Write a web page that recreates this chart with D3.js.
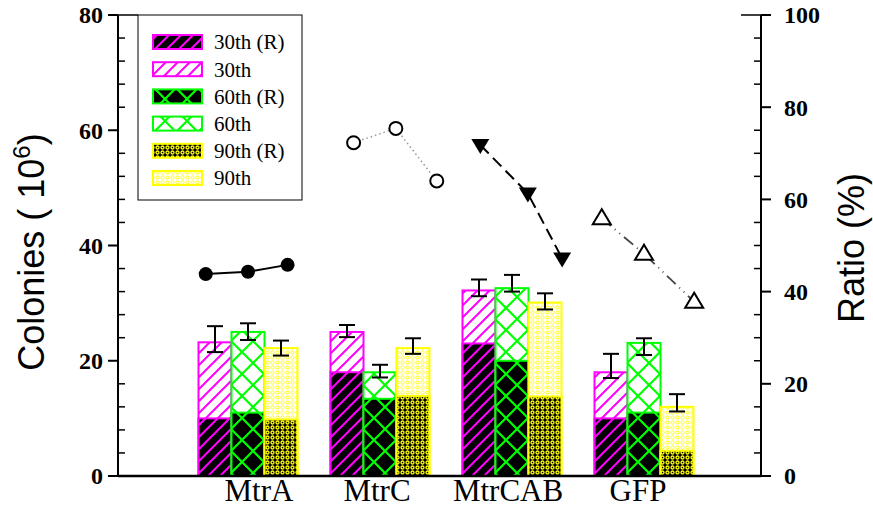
<!DOCTYPE html>
<html><head><meta charset="utf-8">
<script src="https://cdn.jsdelivr.net/npm/d3@7"></script>
<style>body{margin:0;background:#fff}svg{display:block}</style>
</head><body><svg id="c" width="873" height="512"></svg>
<script>
// ---- data ----
const categories = ["MtrA", "MtrC", "MtrCAB", "GFP"];
const total30 = [23.2, 25.0, 32.2, 18.0];
const total60 = [25.0, 18.0, 32.6, 23.1];
const total90 = [22.2, 22.2, 30.1, 12.0];
const r30 = [10.0, 18.0, 23.0, 10.0];
const r60 = [11.0, 13.4, 20.0, 11.0];
const r90 = [9.8, 13.9, 13.8, 4.4];
const err30Up = [2.8, 1.2, 1.9, 3.2], err30Down = [1.7, 0.9, 1.0, 1.0];
const err60Up = [1.5, 1.3, 2.3, 0.8], err60Down = [1.4, 0.9, 0.6, 2.1];
const err90Up = [1.3, 1.7, 1.6, 2.2], err90Down = [1.3, 1.0, 1.2, 0.8];
const legendLabels = ["30th (R)", "30th", "60th (R)", "60th", "90th (R)", "90th"];
// ratio lines (x in category units, 1 = first group centre)
const ratioMtrAX = [0.68, 1.0, 1.30], ratioMtrA = [43.8, 44.3, 45.8];
const ratioMtrCX = [1.80, 2.12, 2.43], ratioMtrC = [72.3, 75.4, 64.0];
const ratioMtrCABX = [2.76, 3.12, 3.38], ratioMtrCAB = [71.8, 61.3, 47.2];
const ratioGFPX = [3.68, 4.0, 4.38], ratioGFP = [55.9, 48.2, 37.8];
const leftTicks = [0, 20, 40, 60, 80];
const rightTicks = [0, 20, 40, 60, 80, 100];

// ---- layout ----
const svg = d3.select("#c");
const X0 = 118, X1 = 761, Y0 = 476, Y1 = 15;
const yL = d3.scaleLinear().domain([0, 80]).range([Y0, Y1]);
const yR = d3.scaleLinear().domain([0, 100]).range([Y0, Y1]);
const x = d3.scaleLinear().domain([0.5, 4.5]).range([182, 710]);
const bw = x(1.25) - x(1); // bar width (0.25 category units)
const labelNudge = [11, -3, -4, -6];

// patterns
const defs = svg.append("defs");
function hatch(id, bg) {
  const p = defs.append("pattern").attr("id", id).attr("patternUnits", "userSpaceOnUse")
    .attr("width", 12).attr("height", 12);
  p.append("rect").attr("width", 12).attr("height", 12).attr("fill", bg);
  p.append("path").attr("d", "M0,12L12,0M-3,3L3,-3M9,15L15,9")
    .attr("stroke", "#ff00ff").attr("stroke-width", 2);
}
function cross(id, bg) {
  const p = defs.append("pattern").attr("id", id).attr("patternUnits", "userSpaceOnUse")
    .attr("width", 22).attr("height", 22);
  p.append("rect").attr("width", 22).attr("height", 22).attr("fill", bg);
  p.append("path").attr("d", "M0,0L22,22M22,0L0,22")
    .attr("stroke", "#00ff00").attr("stroke-width", 2.2);
}
function dots(id, bg, r, sw) {
  const p = defs.append("pattern").attr("id", id).attr("patternUnits", "userSpaceOnUse")
    .attr("width", 5).attr("height", 5);
  p.append("rect").attr("width", 5).attr("height", 5).attr("fill", bg);
  p.append("circle").attr("cx", 2.5).attr("cy", 2.5).attr("r", r)
    .attr("fill", "none").attr("stroke", "#ffff00").attr("stroke-width", sw);
}
hatch("p30r", "#000"); hatch("p30", "#fff");
cross("p60r", "#000"); cross("p60", "#fff");
dots("p90r", "#000", 1.5, 1.3); dots("p90", "#fff", 1.6, 0.9);

const series = [
  {tot: total30, r: r30, up: err30Up, dn: err30Down, off: -1, col: "#ff00ff", pr: "url(#p30r)", p: "url(#p30)"},
  {tot: total60, r: r60, up: err60Up, dn: err60Down, off: 0, col: "#00ff00", pr: "url(#p60r)", p: "url(#p60)"},
  {tot: total90, r: r90, up: err90Up, dn: err90Down, off: 1, col: "#ffff00", pr: "url(#p90r)", p: "url(#p90)"}
];

// bars
series.forEach(s => {
  const g = svg.append("g");
  categories.forEach((c, i) => {
    const cx = x(i + 1) + s.off * bw;
    g.append("rect").attr("x", cx - bw / 2).attr("y", yL(s.tot[i]))
      .attr("width", bw).attr("height", yL(0) - yL(s.tot[i]))
      .attr("fill", s.p).attr("stroke", s.col).attr("stroke-width", 2);
    g.append("rect").attr("x", cx - bw / 2).attr("y", yL(s.r[i]))
      .attr("width", bw).attr("height", yL(0) - yL(s.r[i]))
      .attr("fill", s.pr).attr("stroke", s.col).attr("stroke-width", 2);
    const hi = yL(s.tot[i] + s.up[i]), lo = yL(s.tot[i] - s.dn[i]);
    g.append("line").attr("x1", cx).attr("x2", cx).attr("y1", hi).attr("y2", lo)
      .attr("stroke", "#000").attr("stroke-width", 2);
    [hi, lo].forEach(yy => g.append("line").attr("x1", cx - 8).attr("x2", cx + 8)
      .attr("y1", yy).attr("y2", yy).attr("stroke", "#000").attr("stroke-width", 2));
  });
});

// ratio lines
const lineGen = d3.line().x(d => x(d[0])).y(d => yR(d[1]));
function ratioLine(xs, ys, stroke, dash, sw, marker) {
  const pts = xs.map((v, i) => [v, ys[i]]);
  svg.append("path").attr("d", lineGen(pts)).attr("fill", "none")
    .attr("stroke", stroke).attr("stroke-width", sw).attr("stroke-dasharray", dash);
  const g = svg.append("g");
  pts.forEach(p => {
    const px = x(p[0]), py = yR(p[1]);
    if (marker === "fc") g.append("circle").attr("cx", px).attr("cy", py).attr("r", 7).attr("fill", "#000");
    if (marker === "oc") g.append("circle").attr("cx", px).attr("cy", py).attr("r", 6.5).attr("fill", "#fff").attr("stroke", "#000").attr("stroke-width", 2);
    if (marker === "td") g.append("path").attr("d", `M${px-9},${py-6}L${px+9},${py-6}L${px},${py+9}Z`).attr("fill", "#000");
    if (marker === "tu") g.append("path").attr("d", `M${px-9},${py+6}L${px+9},${py+6}L${px},${py-9}Z`).attr("fill", "#fff").attr("stroke", "#000").attr("stroke-width", 2);
  });
}
ratioLine(ratioMtrAX, ratioMtrA, "#000", null, 2, "fc");
ratioLine(ratioMtrCX, ratioMtrC, "#999", "1.5,3", 1.5, "oc");
ratioLine(ratioMtrCABX, ratioMtrCAB, "#000", "12,6", 2, "td");
ratioLine(ratioGFPX, ratioGFP, "#444", "12,5,1,5,1,5", 1.8, "tu");

// axes
const ax = svg.append("g").attr("stroke", "#000");
ax.append("line").attr("x1", X0).attr("x2", X1).attr("y1", Y0).attr("y2", Y0).attr("stroke-width", 2.5);
ax.append("line").attr("x1", X0).attr("x2", X0).attr("y1", Y0).attr("y2", Y1).attr("stroke-width", 2);
ax.append("line").attr("x1", X1).attr("x2", X1).attr("y1", Y0).attr("y2", Y1).attr("stroke-width", 2);
d3.range(0, 81, 4).forEach(v => {
  if (v % 20 === 0) ax.append("line").attr("x1", X0 - 10).attr("x2", X0).attr("y1", yL(v)).attr("y2", yL(v)).attr("stroke-width", 2);
  else ax.append("line").attr("x1", X0).attr("x2", X0 + 7).attr("y1", yL(v)).attr("y2", yL(v)).attr("stroke-width", 1.5);
});
d3.range(0, 101, 5).forEach(v => {
  if (v % 20 === 0) ax.append("line").attr("x1", X1).attr("x2", X1 + 10).attr("y1", yR(v)).attr("y2", yR(v)).attr("stroke-width", 2);
  else ax.append("line").attr("x1", X1 - 7).attr("x2", X1).attr("y1", yR(v)).attr("y2", yR(v)).attr("stroke-width", 1.5);
});
ax.append("line").attr("x1", X0).attr("x2", X0 + 20).attr("y1", Y1).attr("y2", Y1).attr("stroke-width", 1.5);
ax.append("line").attr("x1", X1 - 20).attr("x2", X1).attr("y1", Y1).attr("y2", Y1).attr("stroke-width", 1.5);

const tickFont = "'Liberation Serif', 'Times New Roman', serif";
svg.append("g").selectAll("text").data(leftTicks).join("text")
  .attr("x", 103).attr("y", d => yL(d)).attr("dy", "0.35em").attr("text-anchor", "end")
  .attr("font-family", tickFont).attr("font-weight", "bold").attr("font-size", 24).text(d => d);
svg.append("g").selectAll("text").data(rightTicks).join("text")
  .attr("x", 784).attr("y", d => yR(d)).attr("dy", "0.35em").attr("text-anchor", "start")
  .attr("font-family", tickFont).attr("font-weight", "bold").attr("font-size", 24).text(d => d);

// category labels
svg.append("g").selectAll("text").data(categories).join("text")
  .attr("x", (d, i) => x(i + 1) + labelNudge[i]).attr("y", 501).attr("text-anchor", "middle")
  .attr("font-family", tickFont).attr("font-size", 31).text(d => d);

// axis titles
const tl = svg.append("text").attr("transform", "translate(44,252) rotate(-90)")
  .attr("text-anchor", "middle").attr("font-family", "'Liberation Sans', Arial, sans-serif").attr("font-size", 36);
tl.append("tspan").text("Colonies ( 10");
tl.append("tspan").attr("dy", -14).attr("font-size", 24).text("6");
tl.append("tspan").attr("dy", 14).text(")");
svg.append("text").attr("transform", "translate(864,248) rotate(-90)")
  .attr("text-anchor", "middle").attr("font-family", "'Liberation Sans', Arial, sans-serif").attr("font-size", 36)
  .text("Ratio (%)");

// legend
const lg = svg.append("g");
lg.append("rect").attr("x", 138).attr("y", 15).attr("width", 164).attr("height", 185)
  .attr("fill", "#fff").attr("stroke", "#000").attr("stroke-width", 1);
const legFill = [series[0].pr, series[0].p, series[1].pr, series[1].p, series[2].pr, series[2].p];
const legCol = [series[0].col, series[0].col, series[1].col, series[1].col, series[2].col, series[2].col];
legendLabels.forEach((t, i) => {
  const cy = 42 + i * 27.2;
  lg.append("rect").attr("x", 153).attr("y", cy - 7).attr("width", 49).attr("height", 14)
    .attr("fill", legFill[i]).attr("stroke", legCol[i]).attr("stroke-width", 2);
  lg.append("text").attr("x", 214).attr("y", cy).attr("dy", "0.35em")
    .attr("font-family", tickFont).attr("font-size", 21).text(t);
});
</script></body></html>
